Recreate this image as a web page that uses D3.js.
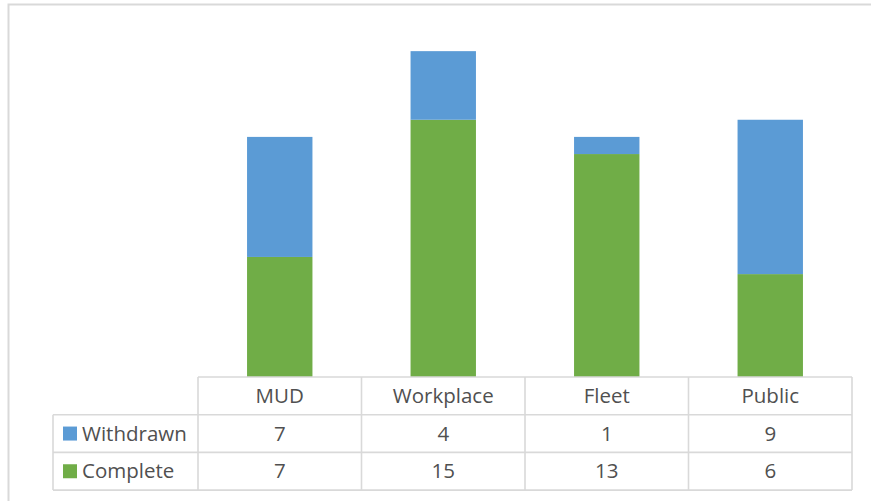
<!DOCTYPE html>
<html lang="en">
<head>
<meta charset="utf-8">
<title>Stacked columns with data table</title>
<script src="https://cdn.jsdelivr.net/npm/d3@7/dist/d3.min.js"></script>
<style>
  body { margin: 0; background: #fff; }
  text { font-family: "Open Sans", "Noto Sans", sans-serif; fill: #505050; }
</style>
</head>
<body>
<script>
// chart data
var categories = ["MUD", "Workplace", "Fleet", "Public"];
var seriesNames = ["Withdrawn", "Complete"];
var withdrawn = [7, 4, 1, 9];
var complete = [7, 15, 13, 6];
var seriesColors = { Withdrawn: "#5B9BD5", Complete: "#70AD47" };

var width = 871, height = 501;
var tableLeft = 53, tableTop = 377, rowH = 37.7;

var svg = d3.select("body").append("svg")
    .attr("width", width)
    .attr("height", height);

// chart frame (cropped on right and bottom)
svg.append("path")
    .attr("d", "M8.5," + height + "V4.5H" + width)
    .attr("fill", "none")
    .attr("stroke", "#D9D9D9")
    .attr("stroke-width", 2);

var xScale = d3.scaleBand()
    .domain(categories)
    .range([198, 852]);

var yScale = d3.scaleLinear()
    .domain([0, 20])
    .range([tableTop, 34]);

var rows = categories.map(function(c, i) {
    return { cat: c, Complete: complete[i], Withdrawn: withdrawn[i] };
});

var stack = d3.stack().keys(["Complete", "Withdrawn"])(rows);
var barW = xScale.bandwidth() * 0.4;

svg.append("g").selectAll("g")
    .data(stack)
    .enter().append("g")
    .attr("fill", function(d) { return seriesColors[d.key]; })
    .selectAll("rect")
    .data(function(d) { return d; })
    .enter().append("rect")
    .attr("x", function(d) { return xScale(d.data.cat) + (xScale.bandwidth() - barW) / 2; })
    .attr("y", function(d) { return yScale(d[1]); })
    .attr("width", barW)
    .attr("height", function(d) { return yScale(d[0]) - yScale(d[1]); });

// data table
var grid = svg.append("g")
    .attr("stroke", "#D9D9D9")
    .attr("stroke-width", 1.6)
    .attr("fill", "none");

var x0 = xScale.range()[0], x1 = xScale.range()[1];
var yRows = [tableTop, tableTop + rowH, tableTop + 2 * rowH, tableTop + 3 * rowH];

grid.append("line").attr("x1", x0).attr("x2", x1).attr("y1", yRows[0]).attr("y2", yRows[0]);
[1, 2, 3].forEach(function(r) {
    grid.append("line").attr("x1", tableLeft).attr("x2", x1).attr("y1", yRows[r]).attr("y2", yRows[r]);
});
grid.append("line").attr("x1", tableLeft).attr("x2", tableLeft).attr("y1", yRows[1]).attr("y2", yRows[3]);
categories.forEach(function(c) {
    grid.append("line").attr("x1", xScale(c)).attr("x2", xScale(c)).attr("y1", yRows[0]).attr("y2", yRows[3]);
});
grid.append("line").attr("x1", x1).attr("x2", x1).attr("y1", yRows[0]).attr("y2", yRows[3]);

var fontSize = 20.5;

// header
svg.append("g").selectAll("text")
    .data(categories)
    .enter().append("text")
    .attr("x", function(d) { return xScale(d) + xScale.bandwidth() / 2; })
    .attr("y", yRows[0] + rowH / 2)
    .attr("dy", "0.35em")
    .attr("text-anchor", "middle")
    .attr("font-size", fontSize)
    .text(function(d) { return d; });

// value rows
var tableSeries = [
    { name: "Withdrawn", values: withdrawn },
    { name: "Complete", values: complete }
];

tableSeries.forEach(function(s, r) {
    var cy = yRows[r + 1] + rowH / 2;
    svg.append("rect")
        .attr("x", 63)
        .attr("y", cy - 7)
        .attr("width", 14)
        .attr("height", 14)
        .attr("fill", seriesColors[s.name]);
    svg.append("text")
        .attr("x", 82)
        .attr("y", cy)
        .attr("dy", "0.35em")
        .attr("font-size", fontSize)
        .text(s.name);
    svg.append("g").selectAll("text")
        .data(s.values)
        .enter().append("text")
        .attr("x", function(d, i) { return xScale(categories[i]) + xScale.bandwidth() / 2; })
        .attr("y", cy)
        .attr("dy", "0.35em")
        .attr("text-anchor", "middle")
        .attr("font-size", fontSize)
        .text(function(d) { return d; });
});
</script>
</body>
</html>
